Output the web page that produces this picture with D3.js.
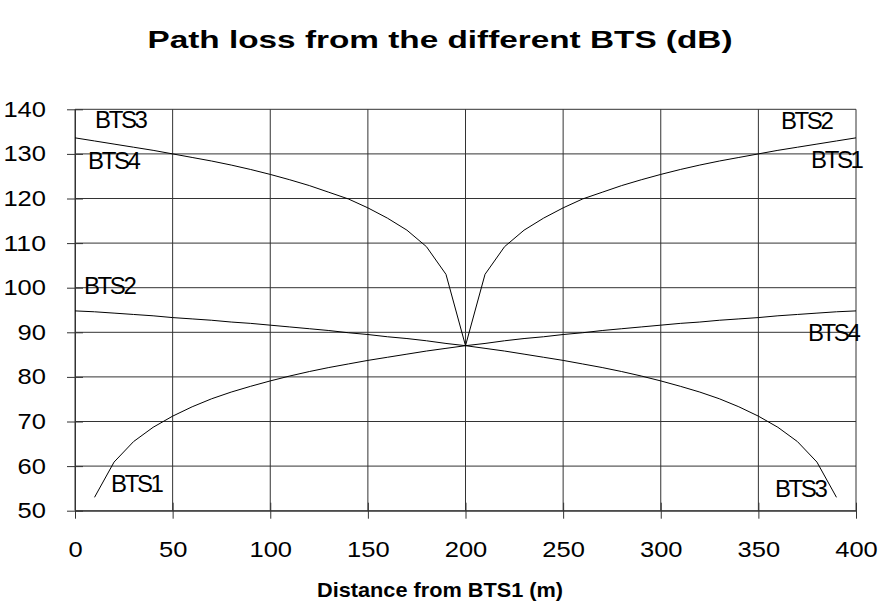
<!DOCTYPE html>
<html>
<head>
<meta charset="utf-8">
<script src="https://cdn.jsdelivr.net/npm/d3@7"></script>
<style>
  html, body { margin: 0; padding: 0; background: #fff; }
  svg { display: block; font-family: "Liberation Sans", Arial, sans-serif; }
</style>
</head>
<body>
<svg id="chart" width="879" height="612"></svg>
<script>
// ---- data ----
const distance = [0,10,20,30,40,50,60,70,80,90,100,110,120,130,140,150,160,170,180,190,200,
                  210,220,230,240,250,260,270,280,290,300,310,320,330,340,350,360,370,380,390,400];
// rising curve (starts at 10 m)
const lossRising = [null,53.0,60.9,65.5,68.7,71.2,73.3,75.1,76.6,77.9,79.1,80.2,81.2,82.1,82.9,83.7,84.4,85.1,85.8,86.4,87.0,
                    87.5,88.1,88.6,89.0,89.5,89.9,90.4,90.8,91.2,91.6,92.0,92.3,92.7,93.0,93.3,93.7,94.0,94.3,94.6,94.8];
// falling curve (ends at 390 m)
const lossFalling = [94.8,94.6,94.3,94.0,93.7,93.3,93.0,92.7,92.3,92.0,91.6,91.2,90.8,90.4,89.9,89.5,89.0,88.6,88.1,87.5,87.0,
                     86.4,85.8,85.1,84.4,83.7,82.9,82.1,81.2,80.2,79.1,77.9,76.6,75.1,73.3,71.2,68.7,65.5,60.9,53.0,null];
// upper curve, left half (0..200 m)
const lossUpperLeft = [133.6,132.9,132.2,131.5,130.8,130.0,129.2,128.4,127.5,126.5,125.4,124.2,122.9,121.4,119.9,117.9,115.6,112.9,109.2,103.0,87.0,
                       null,null,null,null,null,null,null,null,null,null,null,null,null,null,null,null,null,null,null,null];
// upper curve, right half (200..400 m)
const lossUpperRight = [null,null,null,null,null,null,null,null,null,null,null,null,null,null,null,null,null,null,null,null,87.0,
                        103.0,109.2,112.9,115.6,117.9,119.9,121.4,122.9,124.2,125.4,126.5,127.5,128.4,129.2,130.0,130.8,131.5,132.2,132.9,133.6];

const xTicks = [0,50,100,150,200,250,300,350,400];
const yTicks = [50,60,70,80,90,100,110,120,130,140];

const labelTexts = ["BTS3","BTS4","BTS2","BTS1","BTS2","BTS1","BTS4","BTS3"];
const labelX     = [11.3, 7.7, 5.6, 19.5, 362.6, 378.0, 376.4, 359.5];
const labelY     = [135.9, 126.6, 98.6, 54.2, 135.6, 126.9, 88.1, 53.1];

const titleText = "Path loss from the different BTS (dB)";
const xTitleText = "Distance from BTS1 (m)";

// ---- layout ----
const svg = d3.select("#chart");
const x = d3.scaleLinear().domain([0, 400]).range([75, 856]);
const y = d3.scaleLinear().domain([50, 140]).range([510.7, 109.3]);

// gridlines
const grid = svg.append("g").attr("stroke", "#333").attr("stroke-width", 1);
grid.selectAll("line.h").data(yTicks).join("line")
  .attr("x1", x(0)).attr("x2", x(400))
  .attr("y1", d => y(d)).attr("y2", d => y(d));
grid.selectAll("line.v").data(xTicks).join("line")
  .attr("y1", y(140)).attr("y2", y(50))
  .attr("x1", d => x(d)).attr("x2", d => x(d));

// axes (crossing ticks)
const xAxis = svg.append("g").attr("transform", `translate(0,${y(50)})`)
  .call(d3.axisBottom(x).tickValues(xTicks).tickSizeInner(8).tickSizeOuter(0).tickPadding(23));
xAxis.selectAll(".tick line").attr("y1", -8).attr("stroke", "#333");
xAxis.select(".domain").attr("stroke", "#333");
xAxis.selectAll(".tick text").attr("font-size", 22).attr("fill", "#000")
  .attr("font-family", '"Liberation Sans", Arial, sans-serif')
  .each(function(d){ const n = String(d).length; d3.select(this).attr("textLength", n*14.2).attr("lengthAdjust","spacingAndGlyphs"); });

const yAxis = svg.append("g").attr("transform", `translate(${x(0)},0)`)
  .call(d3.axisLeft(y).tickValues(yTicks).tickSizeInner(8).tickSizeOuter(0).tickPadding(21));
yAxis.selectAll(".tick line").attr("x1", 8).attr("stroke", "#333");
yAxis.select(".domain").attr("stroke", "#333");
yAxis.selectAll(".tick text").attr("font-size", 22).attr("fill", "#000")
  .attr("font-family", '"Liberation Sans", Arial, sans-serif')
  .each(function(d){ const n = String(d).length; d3.select(this).attr("textLength", n*14.2).attr("lengthAdjust","spacingAndGlyphs"); });

// lines
const line = d3.line()
  .defined(d => d[1] != null)
  .x(d => x(d[0])).y(d => y(d[1]));
const series = [lossRising, lossFalling, lossUpperLeft, lossUpperRight];
svg.append("g").selectAll("path").data(series).join("path")
  .attr("fill", "none").attr("stroke", "#000").attr("stroke-width", 1)
  .attr("d", s => line(distance.map((d, i) => [d, s[i]])));

// series labels
svg.append("g").selectAll("text").data(labelTexts).join("text")
  .attr("x", (d, i) => x(labelX[i]) - 2)
  .attr("y", (d, i) => y(labelY[i]))
  .attr("font-size", 24).attr("letter-spacing", "-2.4px")
  .attr("fill", "#000")
  .text(d => d);

// title
svg.append("text").attr("x", 440).attr("y", 48)
  .attr("text-anchor", "middle").attr("font-weight", "bold").attr("font-size", 24)
  .attr("textLength", 585).attr("lengthAdjust", "spacingAndGlyphs")
  .text(titleText);

svg.append("text").attr("x", 440).attr("y", 597)
  .attr("text-anchor", "middle").attr("font-weight", "bold").attr("font-size", 21)
  .attr("textLength", 246).attr("lengthAdjust", "spacingAndGlyphs")
  .text(xTitleText);
</script>
</body>
</html>
